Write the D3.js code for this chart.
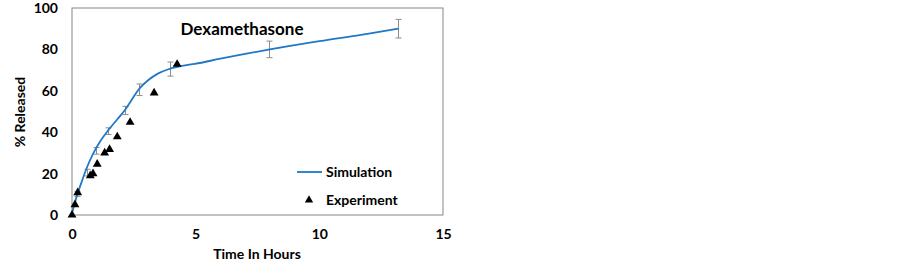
<!DOCTYPE html>
<html><head><meta charset="utf-8">
<script src="https://cdn.jsdelivr.net/npm/d3@7"></script>
<style>body{margin:0;background:#fff}svg{display:block}text{font-family:Lato,"Open Sans",sans-serif;font-weight:bold;fill:#000}</style>
</head><body><svg id="c" width="902" height="265"></svg>
<script>
const title = "Dexamethasone";
const xTicks = [0,5,10,15];
const yTicks = [0,20,40,60,80,100];
const simX = [0,0.19,0.39,0.59,0.86,1.13,1.47,1.81,2.14,2.41,2.68,3.09,3.49,3.9,4.44,4.97,6,7,8,10,12,13.2];
const simY = [0.8,8.9,16,22.6,29.8,35.4,41,45.9,50.7,55.6,60.4,65.2,68.4,70.4,72,73,75.5,77.8,80,84,87.6,90];
const errX = [0.22,0.59,0.97,1.46,2.14,2.7,3.95,7.95,13.2];
const errY = [10.2,20.5,31,40.5,50.5,60.5,70.5,80,90];
const errE = [1.2,1.6,1.6,1.6,2,2.8,3.4,4,4.5];
const expX = [0,0.12,0.23,0.74,0.85,1.02,1.32,1.52,1.83,2.35,3.32,4.25];
const expY = [0,5,10.8,19,20,24.6,30,31.7,37.8,44.8,59,72.8];

const svg = d3.select("#c");
const x = d3.scaleLinear().domain([0,15]).range([72,443]);
const y = d3.scaleLinear().domain([0,100]).range([215,8]);

// plot frame
svg.append("rect").attr("x",72).attr("y",8).attr("width",371).attr("height",207)
  .attr("fill","none").attr("stroke","#868686").attr("stroke-width",1);

// axes (labels only)
const xa = svg.append("g").attr("transform","translate(0,215)")
  .call(d3.axisBottom(x).tickValues(xTicks).tickSize(0).tickPadding(14));
xa.select(".domain").remove();
xa.selectAll("text").style("font-size","14px").style("font-family","Lato").style("font-weight","bold");
const ya = svg.append("g").attr("transform","translate(72,0)")
  .call(d3.axisLeft(y).tickValues(yTicks).tickSize(0).tickPadding(14));
ya.select(".domain").remove();
ya.selectAll("text").style("font-size","14px").style("font-family","Lato").style("font-weight","bold");

// error bars
const eb = svg.append("g").attr("stroke","#8c8c8c").attr("stroke-width",1);
errX.forEach((v,i)=>{
  const cx = Math.round(x(v))+0.5, y1 = y(errY[i]+errE[i]), y2 = y(errY[i]-errE[i]);
  eb.append("line").attr("x1",cx).attr("x2",cx).attr("y1",y1).attr("y2",y2);
  eb.append("line").attr("x1",cx-3).attr("x2",cx+3).attr("y1",y1).attr("y2",y1);
  eb.append("line").attr("x1",cx-3).attr("x2",cx+3).attr("y1",y2).attr("y2",y2);
});

// simulation line
const line = d3.line().x((d,i)=>x(simX[i])).y((d,i)=>y(simY[i])).curve(d3.curveMonotoneX);
svg.append("path").datum(simX).attr("d",line).attr("fill","none").attr("stroke","#1f78c8").attr("stroke-width",1.8);

// experiment triangles
const tri = d3.symbol().type(d3.symbolTriangle).size(34);
svg.append("g").selectAll("path").data(expX).join("path")
  .attr("d",tri).attr("transform",(d,i)=>`translate(${x(d)},${y(expY[i])})`).attr("fill","#000");

// title
svg.append("text").attr("x",242).attr("y",35).attr("text-anchor","middle").style("font-size","17px").text(title);

// legend
svg.append("line").attr("x1",297).attr("x2",322).attr("y1",172).attr("y2",172).attr("stroke","#1f78c8").attr("stroke-width",1.8);
svg.append("text").attr("x",326).attr("y",177).style("font-size","14px").text("Simulation");
svg.append("path").attr("d",d3.symbol().type(d3.symbolTriangle).size(30)).attr("transform","translate(309,200)").attr("fill","#000");
svg.append("text").attr("x",326).attr("y",205).style("font-size","14px").text("Experiment");

// axis titles
svg.append("text").attr("x",257).attr("y",259).attr("text-anchor","middle").style("font-size","14px").text("Time In Hours");
svg.append("text").attr("transform","translate(25,112) rotate(-90)").attr("text-anchor","middle").style("font-size","14px").text("% Released");
</script></body></html>
